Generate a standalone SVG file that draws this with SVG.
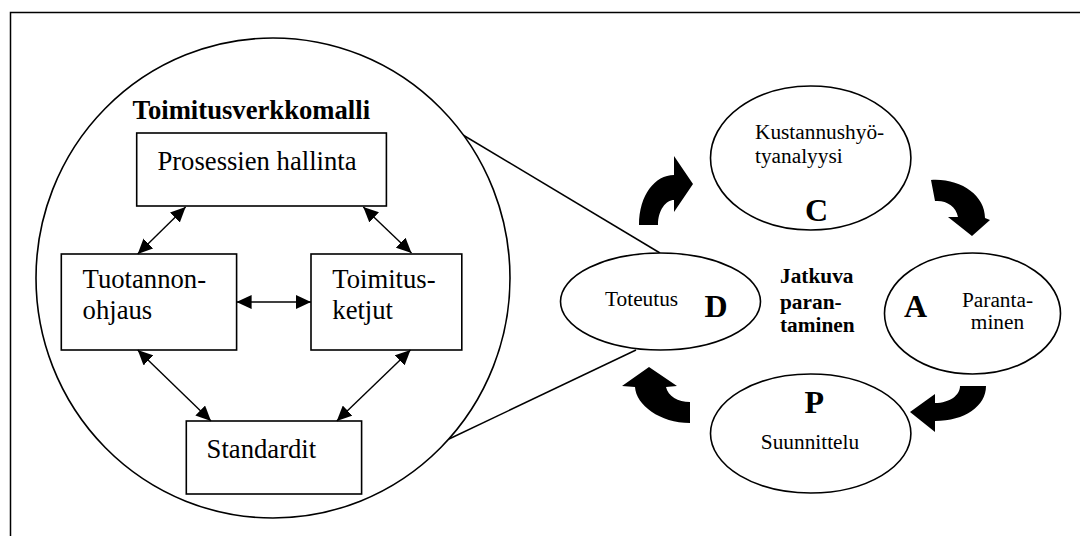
<svg xmlns="http://www.w3.org/2000/svg" width="1080" height="536" viewBox="0 0 1080 536">
  <style>
    .line { fill: none; stroke: #000; stroke-width: 1.5; }
    .shape { fill: #fff; stroke: #000; stroke-width: 1.6; }
    .link { fill: none; stroke: #000; stroke-width: 1.4; marker-start: url(#head); marker-end: url(#head); }
    .txt { font-family: "Liberation Serif", "Times New Roman", serif; fill: #000; }
    .big { font-size: 26.67px; }
    .small { font-size: 21.33px; }
    .letter { font-size: 32px; font-weight: bold; }
    .bold { font-weight: bold; }
    .mid { text-anchor: middle; }
    .curl { fill: #000; stroke: none; }
  </style>
  <defs>
    <marker id="head" viewBox="0 0 15 14" refX="15" refY="7" markerWidth="15" markerHeight="14" markerUnits="userSpaceOnUse" orient="auto-start-reverse">
      <path d="M0,0 L15,7 L0,14 Z" fill="#000"/>
    </marker>
  </defs>

  <rect width="1080" height="536" fill="#fff"/>

  <!-- outer frame (continues past the right and bottom edges) -->
  <rect class="line" x="10.5" y="12.5" width="1100" height="600"/>

  <!-- zoom lines from the model circle to the D ellipse -->
  <g id="zoom-lines">
    <line class="line" x1="463" y1="135" x2="660" y2="253"/>
    <line class="line" x1="449" y1="439" x2="636" y2="350"/>
  </g>

  <!-- supply network model -->
  <g id="model">
    <ellipse class="shape" cx="273" cy="278" rx="237" ry="240"/>
    <text class="txt big bold" x="132.6" y="119">Toimitusverkkomalli</text>
  </g>

  <g id="prosessien-hallinta">
    <rect class="shape" x="136.7" y="133" width="249.7" height="73"/>
    <text class="txt big" x="157.4" y="170">Prosessien hallinta</text>
  </g>

  <g id="tuotannonohjaus">
    <rect class="shape" x="61.3" y="254" width="175.3" height="96"/>
    <text class="txt big" x="82.6" y="288">Tuotannon-</text>
    <text class="txt big" x="82.6" y="319">ohjaus</text>
  </g>

  <g id="toimitusketjut">
    <rect class="shape" x="311" y="254" width="150.8" height="96"/>
    <text class="txt big" x="332.3" y="288">Toimitus-</text>
    <text class="txt big" x="332.3" y="319">ketjut</text>
  </g>

  <g id="standardit">
    <rect class="shape" x="186.3" y="421" width="175.3" height="73"/>
    <text class="txt big" x="206.6" y="458">Standardit</text>
  </g>

  <!-- two-way links inside the model -->
  <g id="connectors">
    <line class="link" x1="185.6" y1="207" x2="137.7" y2="254"/>
    <line class="link" x1="363.3" y1="207" x2="411.5" y2="253"/>
    <line class="link" x1="236.6" y1="302" x2="311" y2="302"/>
    <line class="link" x1="137.7" y1="350" x2="211" y2="421"/>
    <line class="link" x1="410.5" y1="350" x2="336.8" y2="421"/>
  </g>

  <!-- PDCA cycle -->
  <g id="check">
    <ellipse class="shape" cx="810.7" cy="158" rx="100.2" ry="72"/>
    <text class="txt small" x="755" y="139">Kustannushyö-</text>
    <text class="txt small" x="755" y="163">tyanalyysi</text>
    <text class="txt letter" x="805" y="221">C</text>
  </g>

  <g id="do">
    <ellipse class="shape" cx="660.5" cy="301.5" rx="100" ry="48.5"/>
    <text class="txt small" x="605" y="306">Toteutus</text>
    <text class="txt letter" x="704.6" y="317">D</text>
  </g>

  <g id="act">
    <ellipse class="shape" cx="972.5" cy="313.5" rx="88" ry="60.5"/>
    <text class="txt letter" x="904" y="317">A</text>
    <text class="txt small mid" x="997.5" y="307">Paranta-</text>
    <text class="txt small mid" x="997.5" y="329">minen</text>
  </g>

  <g id="plan">
    <ellipse class="shape" cx="810.7" cy="433.5" rx="100.2" ry="59.5"/>
    <text class="txt letter" x="804.5" y="413">P</text>
    <text class="txt small mid" x="810" y="449">Suunnittelu</text>
  </g>

  <g id="centre-label">
    <text class="txt small bold" x="780" y="283">Jatkuva</text>
    <text class="txt small bold" x="780" y="309">paran-</text>
    <text class="txt small bold" x="780" y="332">taminen</text>
  </g>

  <!-- curved block arrows between the cycle phases -->
  <g id="cycle-arrows">
    <path class="curl" d="M639,225 C639,195 655,175 674,175 L674,156 L693,184 L674,212 L674,200 C666,200 658,210 658,225 Z"/>
    <path class="curl" d="M931,180 C960,178 985,195 985,218 L990,220 L972,236 L948,217 L958,217 C956,206 946,200 935,201 Z"/>
    <path class="curl" d="M986,386 C986,406 965,421 935,421 L935,432 L910,412 L935,394 L935,403 C950,403 960,395 960,386 Z"/>
    <path class="curl" d="M690,423 C660,423 636,405 635,387 L622,386 L649,367 L677,386 L666,387 C668,396 678,402 690,402 Z"/>
  </g>
</svg>
